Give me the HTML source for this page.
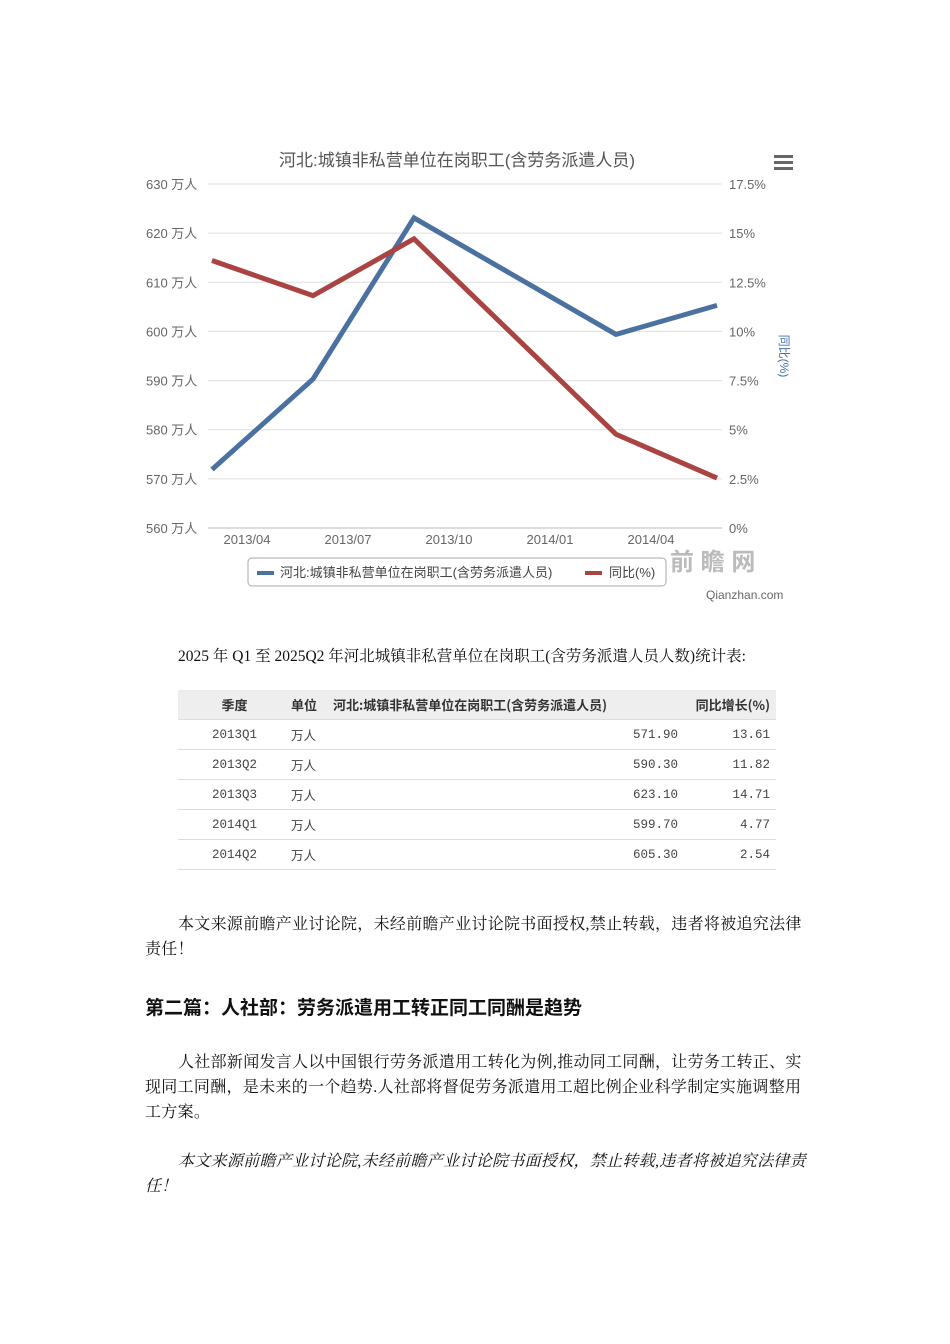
<!DOCTYPE html>
<html><head><meta charset="utf-8"><style>
body{margin:0;background:#fff;width:950px;height:1344px;position:relative;font-family:"Liberation Serif","Noto Serif CJK SC",serif;color:#111}
.p{position:absolute;left:145px;width:662px;font-size:16px;line-height:25px;letter-spacing:0.3px}
table{border-collapse:collapse;font-family:"Liberation Mono","Noto Sans CJK SC",monospace;font-size:12.5px;color:#444}
td{height:29px;border-bottom:1px solid #ddd;padding:0}
</style></head><body>
<svg width="950" height="610" style="position:absolute;left:0;top:0" font-family="Liberation Sans,Noto Sans CJK SC,sans-serif">
<text x="457" y="166" text-anchor="middle" font-size="17" fill="#555">河北:城镇非私营单位在岗职工(含劳务派遣人员)</text>
<g fill="#666"><rect x="774" y="155" width="19" height="3"/><rect x="774" y="161" width="19" height="3"/><rect x="774" y="167" width="19" height="3"/></g>
<g id="grid"></g><g id="lines"></g>
<text transform="translate(780,356) rotate(90)" text-anchor="middle" font-size="12" fill="#4572a7">同比(%)</text>
<g>
<rect x="248" y="558" width="418" height="28" rx="4" fill="#fff" stroke="#aaa"/>
<rect x="257" y="571" width="17" height="4" fill="#4a71a0"/>
<text x="280" y="577" font-size="13" fill="#444">河北:城镇非私营单位在岗职工(含劳务派遣人员)</text>
<rect x="585" y="571" width="17" height="4" fill="#a94442"/>
<text x="609" y="577" font-size="13" fill="#444">同比(%)</text></g>
<text x="670" y="570" font-size="24" fill="#bbb" font-weight="bold">前 瞻 网</text>
<text x="706" y="599" font-size="12" fill="#666">Qianzhan.com</text>
</svg>
<script>
const categories=['2013Q1','2013Q2','2013Q3','2014Q1','2014Q2'];
const catIndex=[0,1,2,4,5];
const employees=[571.9,590.3,623.1,599.4,605.3];
const yoy=[13.61,11.82,14.71,4.77,2.54];
const leftTicks=[560,570,580,590,600,610,620,630];
const rightTicks=['0%','2.5%','5%','7.5%','10%','12.5%','15%','17.5%'];
const xLabels=['2013/04','2013/07','2013/10','2014/01','2014/04'];
const NS='http://www.w3.org/2000/svg';
const yL=v=>528-(v-560)*344/70, yR=v=>528-v*344/17.5, xI=i=>212+i*101;
const g=document.getElementById('grid'), L=document.getElementById('lines');
function mk(t,a,p,txt){const e=document.createElementNS(NS,t);for(const k in a)e.setAttribute(k,a[k]);if(txt!=null)e.textContent=txt;p.appendChild(e);return e;}
leftTicks.forEach((v,i)=>{const y=yL(v);
const ln=mk('line',{x1:208,x2:722,y1:y,y2:y,stroke:i?'#ddd':'#bbb'},g);


const t=mk('text',{x:146,y:y+5,'font-size':13,fill:'#666'},g,v+' 万人');


const r=mk('text',{x:729,y:y+5,'font-size':13,fill:'#666'},g,rightTicks[i]);

});
xLabels.forEach((s,i)=>{const t=mk('text',{x:247+i*101,y:544,'font-size':13,fill:'#666','text-anchor':'middle'},g,s);

});
const pb=mk('polyline',{points:employees.map((v,i)=>xI(catIndex[i])+','+yL(v)).join(' '),fill:'none',stroke:'#4a71a0','stroke-width':5,'stroke-linejoin':'miter'},L);


const pr=mk('polyline',{points:yoy.map((v,i)=>xI(catIndex[i])+','+yR(v)).join(' '),fill:'none',stroke:'#a94442','stroke-width':5},L);


</script>
<div class="p" style="top:644px;left:178px;font-size:15.5px;letter-spacing:0">2025 年 Q1 至 2025Q2 年河北城镇非私营单位在岗职工(含劳务派遣人员人数)统计表:</div>
<table style="position:absolute;left:178px;top:690px;width:598px">
<tr style="background:#eee;font-weight:bold;color:#333;font-family:'Noto Sans CJK SC',sans-serif;font-size:13px"><td style="width:113px;text-align:center">季度</td><td style="width:42px">单位</td><td>河北:城镇非私营单位在岗职工(含劳务派遣人员)</td><td style="width:92px;text-align:right;padding-right:6px">同比增长(%)</td></tr>
<tr><td style="text-align:center">2013Q1</td><td>万人</td><td style="text-align:right">571.90</td><td style="text-align:right;padding-right:6px">13.61</td></tr>
<tr><td style="text-align:center">2013Q2</td><td>万人</td><td style="text-align:right">590.30</td><td style="text-align:right;padding-right:6px">11.82</td></tr>
<tr><td style="text-align:center">2013Q3</td><td>万人</td><td style="text-align:right">623.10</td><td style="text-align:right;padding-right:6px">14.71</td></tr>
<tr><td style="text-align:center">2014Q1</td><td>万人</td><td style="text-align:right">599.70</td><td style="text-align:right;padding-right:6px">4.77</td></tr>
<tr><td style="text-align:center">2014Q2</td><td>万人</td><td style="text-align:right">605.30</td><td style="text-align:right;padding-right:6px">2.54</td></tr>
</table>
<div class="p" style="top:912px;text-indent:33px">本文来源前瞻产业讨论院，未经前瞻产业讨论院书面授权,禁止转载，违者将被追究法律责任！</div>
<div class="p" style="top:994px;font-size:19px;font-weight:bold;font-family:'Noto Sans CJK SC',sans-serif;letter-spacing:0">第二篇：人社部：劳务派遣用工转正同工同酬是趋势</div>
<div class="p" style="top:1050px;text-indent:33px">人社部新闻发言人以中国银行劳务派遣用工转化为例,推动同工同酬，让劳务工转正、实现同工同酬，是未来的一个趋势.人社部将督促劳务派遣用工超比例企业科学制定实施调整用工方案。</div>
<div class="p" style="top:1149px;text-indent:33px;font-style:italic">本文来源前瞻产业讨论院,未经前瞻产业讨论院书面授权，禁止转载,违者将被追究法律责任！</div>
</body></html>
